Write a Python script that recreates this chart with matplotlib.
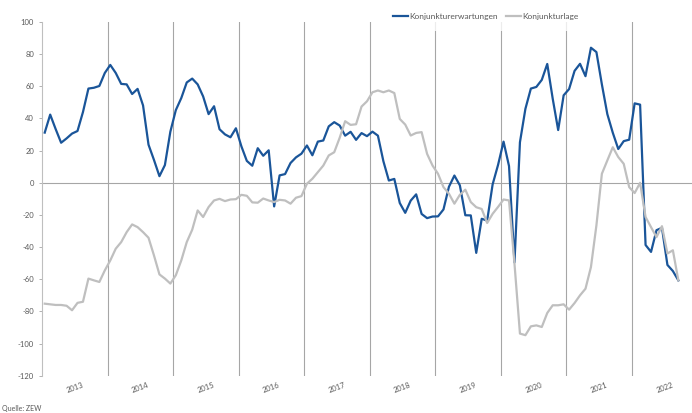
import matplotlib
matplotlib.use("Agg")
import matplotlib.pyplot as plt
import matplotlib.transforms as mtransforms
import numpy as np

plt.rcParams["font.family"] = ["Lato", "DejaVu Sans"]
plt.rcParams["axes.unicode_minus"] = False

# monthly values, Jan 2013 .. Sep 2022
YEARS = ["2013", "2014", "2015", "2016", "2017", "2018", "2019", "2020", "2021", "2022"]
ERWARTUNGEN = [
    31.2, 42.4, 33.4, 24.9, 27.6, 30.6, 32.2, 44.0, 58.6, 59.1, 60.2, 68.3,
    73.3, 68.3, 61.5, 61.2, 55.2, 58.4, 48.1, 23.7, 14.2, 4.1, 11.0, 31.8,
    45.2, 52.7, 62.4, 64.8, 61.2, 53.7, 42.7, 47.6, 33.3, 30.1, 28.3, 33.9,
    22.7, 13.6, 10.6, 21.5, 16.8, 20.2, -14.7, 4.6, 5.4, 12.3, 15.8, 18.1,
    23.2, 17.1, 25.6, 26.3, 35.1, 37.7, 35.6, 29.3, 31.7, 26.7, 30.9, 29.0,
    31.8, 29.3, 13.4, 1.4, 2.4, -12.6, -18.7, -11.1, -7.2, -19.4, -22.0, -21.0,
    -20.9, -16.6, -2.5, 4.5, -1.6, -20.2, -20.3, -43.6, -22.4, -23.5, -1.0, 11.2,
    25.6, 10.4, -49.5, 25.2, 46.0, 58.6, 59.6, 64.0, 73.9, 52.3, 32.8, 54.4,
    58.3, 69.6, 74.0, 66.3, 84.0, 81.3, 61.2, 42.7, 31.1, 21.0, 25.9, 26.8,
    49.4, 48.6, -38.7, -43.0, -29.5, -28.0, -51.1, -54.9, -60.7,
]
LAGE = [
    -75.2, -75.6, -76.0, -76.0, -76.5, -79.3, -74.7, -74.0, -59.6, -60.7, -61.7, -54.5,
    -48.3, -41.0, -36.9, -30.7, -25.9, -27.6, -30.7, -34.2, -45.2, -57.0, -59.6, -62.7,
    -57.5, -48.3, -36.9, -29.2, -17.2, -21.3, -15.1, -11.0, -10.0, -11.4, -10.4, -10.2,
    -7.5, -8.1, -12.2, -12.4, -9.8, -11.0, -12.0, -10.6, -11.0, -13.0, -9.3, -8.3,
    -0.6, 2.5, 6.6, 10.7, 17.0, 19.0, 28.0, 38.3, 36.0, 36.4, 47.4, 50.7,
    56.3, 57.4, 56.3, 57.4, 55.8, 39.7, 36.2, 29.4, 31.0, 31.5, 18.0, 10.7,
    5.6, -2.7, -6.8, -13.0, -7.5, -4.3, -12.0, -15.2, -16.3, -25.0, -19.3, -15.0,
    -10.4, -11.0, -50.3, -93.8, -94.8, -89.3, -88.7, -89.7, -81.0, -76.2, -76.2, -75.6,
    -78.9, -74.8, -70.0, -65.9, -52.4, -26.5, 5.6, 13.9, 22.1, 16.0, 11.8, -2.7,
    -6.4, 0.0, -21.3, -27.6, -33.8, -27.0, -44.0, -42.0, -60.7,
]

BLUE = "#1a5599"
GREY = "#bfbfbf"
GRID = "#a6a6a6"
TXT = "#595959"

W, H = 692, 413
fig = plt.figure(figsize=(W / 100, H / 100), dpi=100)
ax = fig.add_axes([42 / W, 1 - 375.7 / H, 650 / W, 353.7 / H])

months = np.arange(len(ERWARTUNGEN))

# year separators + zero line
for k in range(1, len(YEARS)):
    ax.axvline(12 * k - 0.5, color=GRID, lw=0.8, zorder=1)
ax.axhline(0, color=GRID, lw=0.8, zorder=1)

ax.plot(months, ERWARTUNGEN, color=BLUE, lw=1.6, zorder=3, label="Konjunkturerwartungen",
        solid_joinstyle="round")
ax.plot(months, LAGE, color=GREY, lw=1.6, zorder=4, label="Konjunkturlage",
        solid_joinstyle="round")

ax.set_xlim(-0.5, 118.5)
ax.set_ylim(-120, 100)
ax.set_yticks(np.arange(-120, 101, 20))
ax.tick_params(axis="y", length=2.2, width=0.6, color=GRID, pad=3.5,
               labelsize=5.5, labelcolor=TXT)
ax.set_xticks([])
for side in ("top", "right", "bottom"):
    ax.spines[side].set_visible(False)
ax.spines["left"].set_color(GREY)
ax.spines["left"].set_linewidth(0.8)

trans = mtransforms.blended_transform_factory(ax.transData, ax.transAxes)
for i, yr in enumerate(YEARS):
    ax.text(12 * i + 5.5, -0.035, yr, transform=trans, rotation=20, ha="center",
            va="center", fontsize=5.5, color=TXT)

leg = fig.legend(loc="center", bbox_to_anchor=(486 / W, 1 - 16 / H), ncol=2,
                 frameon=True, fontsize=6, handlelength=1.8, handletextpad=0.15,
                 columnspacing=1.0, borderpad=1.4, fancybox=False)
leg.get_frame().set_facecolor("white")
leg.get_frame().set_edgecolor("none")
for t in leg.get_texts():
    t.set_color(TXT)

fig.text(2 / W, 1 - 408 / H, "Quelle: ZEW", fontsize=5, color=TXT, ha="left", va="center")

fig.savefig("out.png", dpi=100, facecolor="white")
